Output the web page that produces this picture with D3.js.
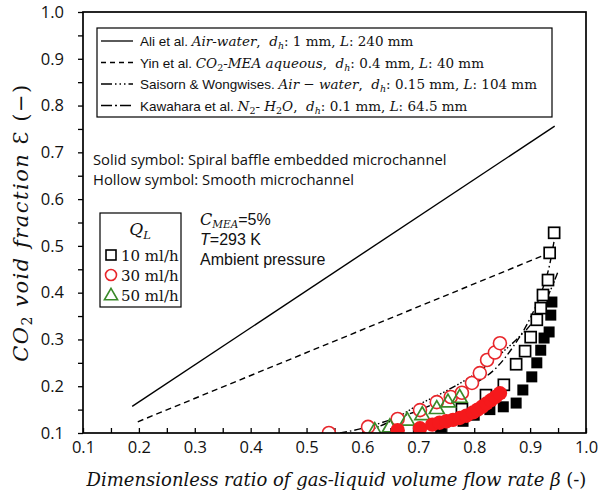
<!DOCTYPE html>
<html>
<head>
<meta charset="utf-8">
<script src="https://cdn.jsdelivr.net/npm/d3@7"></script>
<style>
  html, body { margin: 0; padding: 0; background: #fff; }
  svg { display: block; }
  .sans { font-family: "Liberation Sans", Arial, sans-serif; }
  .cal { font-family: "Open Sans", "Lato", sans-serif; }
  .math { font-family: "DejaVu Serif", "Liberation Serif", serif; }
</style>
</head>
<body>
<svg id="chart" width="601" height="497"></svg>
<script>
// Axis ticks
const xTicks = [0.1, 0.2, 0.3, 0.4, 0.5, 0.6, 0.7, 0.8, 0.9, 1.0];
const yTicks = [0.1, 0.2, 0.3, 0.4, 0.5, 0.6, 0.7, 0.8, 0.9, 1.0];

// Correlation curves [beta, epsilon]
const aliLine = [[0.188, 0.157], [0.944, 0.756]];
const yinLine = [[0.198, 0.124], [0.935, 0.485]];
const saisornCurve = [[0.60, 0.100], [0.65, 0.125], [0.70, 0.160], [0.75, 0.190], [0.80, 0.225],
  [0.85, 0.272], [0.88, 0.305], [0.90, 0.330], [0.92, 0.365], [0.94, 0.415], [0.95, 0.445]];
const kawaharaCurve = [[0.56, 0.100], [0.60, 0.110], [0.65, 0.128], [0.70, 0.148], [0.75, 0.175],
  [0.80, 0.205], [0.84, 0.240], [0.87, 0.285], [0.90, 0.345], [0.92, 0.400], [0.935, 0.460], [0.945, 0.525]];

// Measured void fraction, 10 ml/h, smooth microchannel (hollow squares)
const q10Smooth = [[0.778, 0.151], [0.821, 0.181], [0.853, 0.203], [0.875, 0.247], [0.891, 0.275],
  [0.901, 0.305], [0.912, 0.342], [0.919, 0.367], [0.923, 0.395], [0.932, 0.427], [0.935, 0.485], [0.943, 0.528]];
// 10 ml/h, spiral baffle microchannel (solid squares)
const q10Spiral = [[0.70, 0.104], [0.74, 0.112], [0.78, 0.125], [0.80, 0.138], [0.828, 0.150],
  [0.852, 0.156], [0.875, 0.164], [0.887, 0.192], [0.903, 0.220], [0.912, 0.250], [0.919, 0.277],
  [0.925, 0.303], [0.934, 0.316], [0.937, 0.352], [0.939, 0.380]];
// 30 ml/h, smooth (hollow circles)
const q30Smooth = [[0.54, 0.100], [0.61, 0.113], [0.663, 0.130], [0.703, 0.149], [0.733, 0.166],
  [0.758, 0.177], [0.778, 0.186], [0.796, 0.207], [0.810, 0.228], [0.823, 0.256], [0.837, 0.272], [0.846, 0.292]];
// 30 ml/h, spiral baffle (solid circles)
const q30Spiral = [[0.663, 0.106], [0.703, 0.110], [0.725, 0.118], [0.738, 0.122], [0.750, 0.125],
  [0.762, 0.128], [0.774, 0.132], [0.786, 0.137], [0.798, 0.144], [0.806, 0.150], [0.814, 0.156],
  [0.822, 0.163], [0.830, 0.170], [0.838, 0.177], [0.846, 0.185]];
// 50 ml/h, smooth (hollow triangles)
const q50Smooth = [[0.622, 0.106], [0.649, 0.114], [0.680, 0.128], [0.707, 0.140], [0.733, 0.153],
  [0.753, 0.167], [0.774, 0.177]];

const svg = d3.select("#chart");
const x = d3.scaleLinear().domain([0.1, 1.0]).range([83, 586]);
const y = d3.scaleLinear().domain([0.1, 1.0]).range([433, 12]);
const isMajor = d => Math.abs(Math.round(d * 10) - d * 10) < 1e-6;

// Y axis: ticks outward every 0.05, labels every 0.1
const yAxis = svg.append("g").attr("transform", `translate(${x(0.1)},0)`)
  .call(d3.axisLeft(y).tickValues(d3.range(0.1, 1.001, 0.05)).tickSize(5)
    .tickFormat(d => isMajor(d) ? d3.format(".1f")(d) : ""));
yAxis.select(".domain").remove();
yAxis.selectAll(".tick line").attr("stroke", "#000").attr("stroke-width", 1.3);
yAxis.selectAll(".tick text").attr("class", "cal").attr("font-size", 16.5).attr("fill", "#111").attr("x", -19);

// X axis: ticks pointing inward every 0.05
const xAxis = svg.append("g").attr("transform", `translate(0,${y(0.1)})`)
  .call(d3.axisBottom(x).tickValues(d3.range(0.1, 1.001, 0.05)).tickSize(-5)
    .tickFormat(d => isMajor(d) ? d3.format(".1f")(d) : ""));
xAxis.select(".domain").remove();
xAxis.selectAll(".tick line").attr("stroke", "#000").attr("stroke-width", 1.3);
xAxis.selectAll(".tick text").attr("class", "cal").attr("font-size", 16.5).attr("fill", "#111").attr("y", 8);

// Clip region for plotted marks
svg.append("clipPath").attr("id", "plotClip").append("rect")
  .attr("x", x(0.1)).attr("y", y(1.0)).attr("width", x(1.0) - x(0.1)).attr("height", y(0.1) - y(1.0));

const plot = svg.append("g").attr("clip-path", "url(#plotClip)");
const line = d3.line().x(d => x(d[0])).y(d => y(d[1]));
const curve = d3.line().x(d => x(d[0])).y(d => y(d[1])).curve(d3.curveMonotoneX);

plot.append("path").datum(aliLine).attr("d", line).attr("fill", "none").attr("stroke", "#000").attr("stroke-width", 1.4);
plot.append("path").datum(yinLine).attr("d", line).attr("fill", "none").attr("stroke", "#000").attr("stroke-width", 1.4)
  .attr("stroke-dasharray", "6,4");
plot.append("path").datum(saisornCurve).attr("d", curve).attr("fill", "none").attr("stroke", "#000").attr("stroke-width", 1.4)
  .attr("stroke-dasharray", "7,2,1.5,2,1.5,2,1.5,2");
plot.append("path").datum(kawaharaCurve).attr("d", curve).attr("fill", "none").attr("stroke", "#000").attr("stroke-width", 1.4)
  .attr("stroke-dasharray", "7,3,1.5,3");

const sq = 11;
plot.append("g").selectAll("rect").data(q10Spiral).join("rect")
  .attr("x", d => x(d[0]) - sq / 2).attr("y", d => y(d[1]) - sq / 2)
  .attr("width", sq).attr("height", sq).attr("fill", "#000");
plot.append("g").selectAll("rect").data(q10Smooth).join("rect")
  .attr("x", d => x(d[0]) - sq / 2).attr("y", d => y(d[1]) - sq / 2)
  .attr("width", sq).attr("height", sq).attr("fill", "#fff").attr("stroke", "#000").attr("stroke-width", 1.7);
plot.append("g").selectAll("circle").data(q30Smooth).join("circle")
  .attr("cx", d => x(d[0])).attr("cy", d => y(d[1])).attr("r", 6.5)
  .attr("fill", "#fff").attr("stroke", "#e8262b").attr("stroke-width", 1.6);
const tri = d3.symbol().type(d3.symbolTriangle).size(95);
plot.append("g").selectAll("path").data(q50Smooth).join("path")
  .attr("transform", d => `translate(${x(d[0])},${y(d[1]) + 1})`).attr("d", tri)
  .attr("fill", "none").attr("stroke", "#3a8a2a").attr("stroke-width", 1.7);
plot.append("g").selectAll("circle").data(q30Spiral).join("circle")
  .attr("cx", d => x(d[0])).attr("cy", d => y(d[1])).attr("r", 7.2)
  .attr("fill", "#f5191c");

// Plot frame
svg.append("rect").attr("x", x(0.1)).attr("y", y(1.0)).attr("width", x(1.0) - x(0.1)).attr("height", y(0.1) - y(1.0))
  .attr("fill", "none").attr("stroke", "#000").attr("stroke-width", 1.7);

// Correlation legend
const lg = svg.append("g");
lg.append("rect").attr("x", 97).attr("y", 28).attr("width", 455).attr("height", 89)
  .attr("fill", "#fff").attr("stroke", "#000").attr("stroke-width", 1.2);
const legendRows = [
  { dash: null, author: "Ali et al. ", fluid: [["Air-water", 0]], dh: "1 mm", L: "240 mm" },
  { dash: "5,4", author: "Yin et al. ", fluid: [["CO", 0], ["2", 1], ["-MEA aqueous", 0]], dh: "0.4 mm", L: "40 mm" },
  { dash: "11,3,1.5,3,1.5,3,1.5,3", author: "Saisorn & Wongwises. ", fluid: [["Air − water", 0]], dh: "0.15 mm", L: "104 mm" },
  { dash: "11,3,2,3", author: "Kawahara et al. ", fluid: [["N", 0], ["2", 1], ["- H", 0], ["2", 1], ["O", 0]], dh: "0.1 mm", L: "64.5 mm" }
];
legendRows.forEach((r, i) => {
  const yy = 41 + i * 21.5;
  lg.append("line").attr("x1", 101).attr("x2", 133).attr("y1", yy).attr("y2", yy)
    .attr("stroke", "#000").attr("stroke-width", 1.3).attr("stroke-dasharray", r.dash);
  const t = lg.append("text").attr("x", 140).attr("y", yy + 5).attr("font-size", 13.5).attr("fill", "#111")
    .attr("xml:space", "preserve");
  t.append("tspan").attr("class", "sans").text(r.author);
  let sub = false;
  r.fluid.forEach(f => {
    const s = t.append("tspan").attr("class", "math").attr("font-style", "italic").text(f[0]);
    if (f[1]) { s.attr("font-style", "normal").attr("font-size", 9.5).attr("dy", 3); sub = true; }
    else if (sub) { s.attr("dy", -3); sub = false; }
  });
  const comma = t.append("tspan").attr("class", "math").text(",  ");
  if (sub) comma.attr("dy", -3);
  t.append("tspan").attr("class", "math").attr("font-style", "italic").text("d");
  t.append("tspan").attr("class", "math").attr("font-style", "italic").attr("font-size", 9.5).attr("dy", 3).text("h");
  t.append("tspan").attr("class", "math").attr("dy", -3).text(": " + r.dh + ", ");
  t.append("tspan").attr("class", "math").attr("font-style", "italic").text("L");
  t.append("tspan").attr("class", "math").text(": " + r.L);
});

// Symbol notes
svg.append("text").attr("class", "cal").attr("x", 93).attr("y", 165).attr("font-size", 14.8).attr("fill", "#111")
  .text("Solid symbol: Spiral baffle embedded microchannel");
svg.append("text").attr("class", "cal").attr("x", 93).attr("y", 185).attr("font-size", 14.8).attr("fill", "#111")
  .text("Hollow symbol: Smooth microchannel");

// Liquid flow rate legend
const ql = svg.append("g");
ql.append("rect").attr("x", 100).attr("y", 213).attr("width", 81).attr("height", 94)
  .attr("fill", "#fff").attr("stroke", "#000").attr("stroke-width", 1.2);
const qt = ql.append("text").attr("class", "math").attr("x", 140).attr("y", 235).attr("text-anchor", "middle")
  .attr("font-size", 17).attr("font-style", "italic").attr("fill", "#111");
qt.append("tspan").text("Q");
qt.append("tspan").attr("font-size", 11.5).attr("dy", 4).text("L");
const qRows = [
  { label: "10 ml/h", kind: "sq" },
  { label: "30 ml/h", kind: "circ" },
  { label: "50 ml/h", kind: "tri" }
];
qRows.forEach((r, i) => {
  const yy = 255 + i * 20;
  if (r.kind === "sq") ql.append("rect").attr("x", 106).attr("y", yy - 5).attr("width", 10).attr("height", 10)
    .attr("fill", "none").attr("stroke", "#000").attr("stroke-width", 1.6);
  if (r.kind === "circ") ql.append("circle").attr("cx", 111).attr("cy", yy).attr("r", 5.5)
    .attr("fill", "none").attr("stroke", "#e8262b").attr("stroke-width", 1.6);
  if (r.kind === "tri") ql.append("path").attr("transform", `translate(111,${yy + 1})`).attr("d", d3.symbol().type(d3.symbolTriangle).size(75))
    .attr("fill", "none").attr("stroke", "#3a8a2a").attr("stroke-width", 1.6);
  ql.append("text").attr("class", "math").attr("x", 121).attr("y", yy + 6).attr("font-size", 15).attr("fill", "#111").text(r.label);
});

// Operating conditions
const c1 = svg.append("text").attr("x", 200).attr("y", 225).attr("font-size", 16).attr("fill", "#111");
c1.append("tspan").attr("class", "math").attr("font-style", "italic").text("C");
c1.append("tspan").attr("class", "math").attr("font-style", "italic").attr("font-size", 10.5).attr("dy", 3).text("MEA");
c1.append("tspan").attr("class", "sans").attr("dy", -3).text("=5%");
const c2 = svg.append("text").attr("x", 200).attr("y", 245).attr("font-size", 16).attr("fill", "#111");
c2.append("tspan").attr("class", "sans").attr("font-style", "italic").text("T");
c2.append("tspan").attr("class", "sans").text("=293 K");
svg.append("text").attr("class", "sans").attr("x", 200).attr("y", 265).attr("font-size", 16).attr("fill", "#111")
  .text("Ambient pressure");

// Axis titles
const xt = svg.append("text").attr("class", "math").attr("x", (x(0.1) + x(1.0)) / 2 + 2).attr("y", 486)
  .attr("text-anchor", "middle").attr("font-size", 18).attr("fill", "#111");
xt.append("tspan").attr("font-style", "italic").text("Dimensionless ratio of gas-liquid volume flow rate β ");
xt.append("tspan").text("(-)");

const yt = svg.append("text").attr("class", "math").attr("transform", `translate(28,${(y(0.1) + y(1.0)) / 2}) rotate(-90)`)
  .attr("text-anchor", "middle").attr("font-size", 21).attr("letter-spacing", 1.5).attr("fill", "#111");
yt.append("tspan").attr("font-style", "italic").text("CO");
yt.append("tspan").attr("font-size", 14).attr("dy", 4).text("2");
yt.append("tspan").attr("font-style", "italic").attr("dy", -4).text(" void fraction ");
yt.append("tspan").text("Ɛ (−)");
</script>
</body>
</html>
